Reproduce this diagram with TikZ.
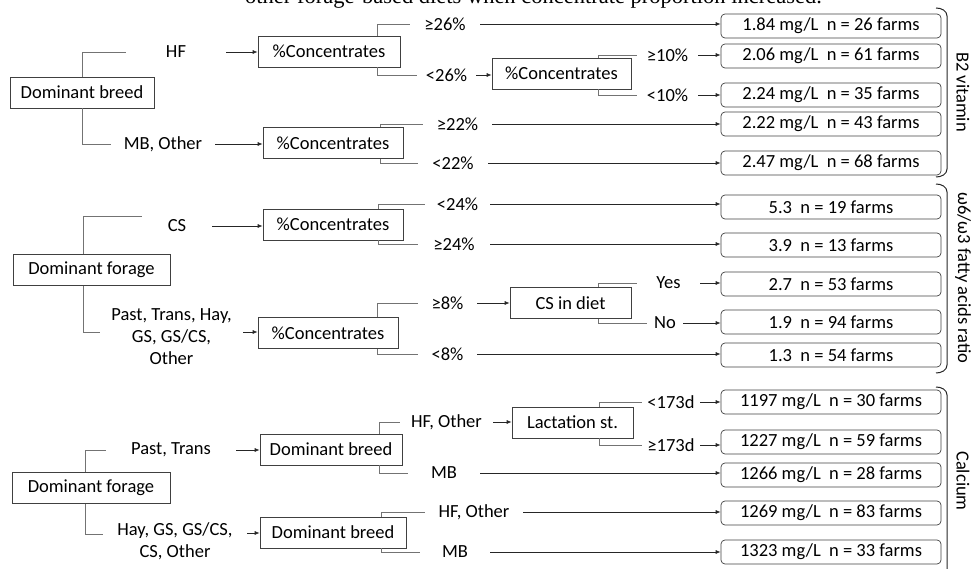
\documentclass[tikz,border=0pt]{standalone}
\usepackage{fontspec}
\setmainfont{Carlito}
\newfontfamily\serifcap{Liberation Serif}
\usetikzlibrary{arrows.meta}
\newcommand\treefont{\fontsize{18.5}{22}\selectfont}
\tikzset{
  box/.style={draw=black!75, line width=0.7pt, minimum height=31pt, inner sep=2pt, font=\treefont},
  res/.style={box, rounded corners=4pt, minimum width=220pt, minimum height=24pt},
  lbl/.style={inner sep=0pt, font=\treefont, align=center},
  brk/.style={draw=black!55, line width=0.7pt},
  arr/.style={draw=black!85, line width=0.7pt, -{Latex[length=5pt,width=4pt]}},
  sidebrace/.style={draw=black!85, line width=1pt},
}
\begin{document}
\begin{tikzpicture}[x=1pt, y=-1pt]
\useasboundingbox (0,0) rectangle (975,569);
\node[anchor=base west, inner sep=0pt, font=\serifcap\fontsize{22.5}{26}\selectfont] (cap) at (245,4) {other forage-based diets when concentrate proportion increased.};

% B2 vitamin
\node[box, minimum width=144pt] (db1) at (82,92.5) {Dominant breed};
\node[lbl, minimum width=100pt] (hf) at (176,52) {HF};
\node[lbl, minimum width=104pt] (mbo) at (163,144) {MB, Other};
\node[box, minimum width=142pt] (c1) at (329,51.5) {\%Concentrates};
\node[box, minimum width=140pt] (c2) at (333,143) {\%Concentrates};
\node[lbl, minimum width=70pt] (ge26) at (445,24) {≥26\%};
\node[lbl, minimum width=59pt] (lt26) at (446.5,75) {<26\%};
\node[box, minimum width=139pt] (c3) at (561.5,73.5) {\%Concentrates};
\node[lbl, minimum width=61pt] (ge10) at (667.5,55) {≥10\%};
\node[lbl, minimum width=61pt] (lt10) at (667.5,95) {<10\%};
\node[lbl, minimum width=69pt] (ge22) at (457.5,124) {≥22\%};
\node[lbl, minimum width=70pt] (lt22) at (453,163) {<22\%};
\node[res] (r1) at (831,26) {1.84 mg/L\ \ n = 26 farms};
\node[res] (r2) at (831,56) {2.06 mg/L\ \ n = 61 farms};
\node[res] (r3) at (831,95) {2.24 mg/L\ \ n = 35 farms};
\node[res] (r4) at (831,124) {2.22 mg/L\ \ n = 43 farms};
\node[res] (r5) at (831,163) {2.47 mg/L\ \ n = 68 farms};

\draw[brk] (db1.north) |- (hf.west);
\draw[brk] (db1.south) |- (mbo.west);
\draw[arr] (hf.east) -- (hf.east -| c1.west);
\draw[arr] (mbo.east) -- (mbo.east -| c2.west);
\draw[brk] ([xshift=-23pt]c1.north east) |- (ge26.west);
\draw[brk] ([xshift=-23pt]c1.south east) |- (lt26.west);
\draw[arr] (ge26.east) -- (ge26.east -| r1.west);
\draw[arr] (lt26.east) -- (lt26.east -| c3.west);
\draw[brk] ([xshift=-33pt]c3.north east) |- (ge10.west);
\draw[brk] ([xshift=-33pt]c3.south east) |- (lt10.west);
\draw[arr] (ge10.east) -- (ge10.east -| r2.west);
\draw[arr] (lt10.east) -- (lt10.east -| r3.west);
\draw[brk] ([xshift=-23pt]c2.north east) |- (ge22.west);
\draw[brk] ([xshift=-23pt]c2.south east) |- (lt22.west);
\draw[arr] (ge22.east) -- (ge22.east -| r4.west);
\draw[arr] (lt22.east) -- (lt22.east -| r5.west);

% omega6/omega3
\node[box, minimum width=157pt] (df1) at (91.5,270) {Dominant forage};
\node[lbl, minimum width=70pt] (cs) at (177,226) {CS};
\node[lbl, minimum width=143pt] (pth) at (171.5,337) {Past, Trans, Hay,\\GS, GS/CS,\\Other};
\node[box, minimum width=140pt] (c4) at (333,224.5) {\%Concentrates};
\node[box, minimum width=140pt] (c5) at (328,333) {\%Concentrates};
\node[lbl, minimum width=65pt] (lt24) at (457.5,204) {<24\%};
\node[lbl, minimum width=72pt] (ge24) at (454,244) {≥24\%};
\node[lbl, minimum width=59pt] (ge8) at (447.5,303) {≥8\%};
\node[lbl, minimum width=59pt] (lt8) at (447.5,354) {<8\%};
\node[box, minimum width=121pt] (csd) at (570.5,303) {CS in diet};
\node[lbl, minimum width=63pt] (yes) at (668.5,283) {Yes};
\node[lbl, minimum width=36pt] (no) at (665,323) {No};
\node[res] (r6) at (831,207) {5.3\ \ n = 19 farms};
\node[res] (r7) at (831,245) {3.9\ \ n = 13 farms};
\node[res] (r8) at (831,284) {2.7\ \ n = 53 farms};
\node[res] (r9) at (831,322) {1.9\ \ n = 94 farms};
\node[res] (r10) at (831,355) {1.3\ \ n = 54 farms};

\draw[brk] ([xshift=-8pt]df1.north) |- ([yshift=10pt]cs.west);
\draw[brk] ([xshift=-8pt]df1.south) |- ([yshift=5pt]pth.west);
\draw[arr] (cs.east) -- (cs.east -| c4.west);
\draw[arr] ([yshift=5pt]pth.east) -- ([yshift=5pt]pth.east -| c5.west);
\draw[brk] ([xshift=-25pt]c4.north east) |- (lt24.west);
\draw[brk] ([xshift=-25pt]c4.south east) |- (ge24.west);
\draw[arr] (lt24.east) -- (lt24.east -| r6.west);
\draw[arr] (ge24.east) -- (ge24.east -| r7.west);
\draw[brk] ([xshift=-21pt]c5.north east) |- (ge8.west);
\draw[brk] ([xshift=-21pt]c5.south east) |- (lt8.west);
\draw[arr] (ge8.east) -- (ge8.east -| csd.west);
\draw[arr] (lt8.east) -- (lt8.east -| r10.west);
\draw[brk] ([xshift=-33pt]csd.north east) |- (yes.west);
\draw[brk] ([xshift=-33pt]csd.south east) |- (no.west);
\draw[arr] (yes.east) -- (yes.east -| r8.west);
\draw[arr] (no.east) -- (no.east -| r9.west);

% Calcium
\node[box, minimum width=158pt] (df2) at (91,488) {Dominant forage};
\node[lbl, minimum width=130pt] (pt) at (171,450) {Past, Trans};
\node[lbl, minimum width=144pt] (hay) at (175,541) {Hay, GS, GS/CS,\\CS, Other};
\node[box, minimum width=142pt] (db2) at (331,449.5) {Dominant breed};
\node[box, minimum width=146pt] (db3) at (333,532.5) {Dominant breed};
\node[lbl, minimum width=93pt] (hfo) at (446.5,422) {HF, Other};
\node[lbl, minimum width=72pt] (mb1) at (444,473) {MB};
\node[box, minimum width=121pt] (lac) at (572.5,422.5) {Lactation st.};
\node[lbl, minimum width=58pt] (lt173) at (671,402) {<173d};
\node[lbl, minimum width=58pt] (ge173) at (671,445) {≥173d};
\node[lbl, minimum width=98pt] (hfo2) at (474,512) {HF, Other};
\node[lbl, minimum width=70pt] (mb2) at (455,552) {MB};
\node[res] (r11) at (831,402) {1197 mg/L\ \ n = 30 farms};
\node[res] (r12) at (831,442) {1227 mg/L\ \ n = 59 farms};
\node[res] (r13) at (831,475) {1266 mg/L\ \ n = 28 farms};
\node[res] (r14) at (831,513) {1269 mg/L\ \ n = 83 farms};
\node[res] (r15) at (831,552) {1323 mg/L\ \ n = 33 farms};

\draw[brk] ([xshift=-6pt]df2.north) |- (pt.west);
\draw[brk] ([xshift=-6pt]df2.south) |- ([yshift=7pt]hay.west);
\draw[arr] (pt.east) -- (pt.east -| db2.west);
\draw[arr] ([yshift=8pt]hay.east) -- ([yshift=8pt]hay.east -| db3.west);
\draw[brk] ([xshift=-23pt]db2.north east) |- (hfo.west);
\draw[brk] ([xshift=-23pt]db2.south east) |- (mb1.west);
\draw[arr] (hfo.east) -- (hfo.east -| lac.west);
\draw[arr] (mb1.east) -- (mb1.east -| r13.west);
\draw[brk] ([xshift=-34pt]lac.north east) |- (lt173.west);
\draw[brk] ([xshift=-34pt]lac.south east) |- (ge173.west);
\draw[arr] (lt173.east) -- (lt173.east -| r11.west);
\draw[arr] (ge173.east) -- (ge173.east -| r12.west);
\draw[brk] ([xshift=-25pt]db3.north east) |- (hfo2.west);
\draw[brk] ([xshift=-25pt]db3.south east) |- (mb2.west);
\draw[arr] (hfo2.east) -- (hfo2.east -| r14.west);
\draw[arr] (mb2.east) -- (mb2.east -| r15.west);

% side braces
\draw[sidebrace] (936,8) to[out=0,in=90] (947,16) -- (947,169) to[out=-90,in=0] (936,177);
\draw[sidebrace] (936,184) to[out=0,in=90] (947,192) -- (947,365) to[out=-90,in=0] (936,373);
\draw[sidebrace] (936,387) to[out=0,in=90] (947,395) -- (947,575);
\node[lbl, rotate=-90] (b2) at (963,92) {B2 vitamin};
\node[lbl, rotate=-90] (om) at (963,278) {ω6/ω3 fatty acids ratio};
\node[lbl, rotate=-90] (ca) at (963,481) {Calcium};
\end{tikzpicture}
\end{document}
